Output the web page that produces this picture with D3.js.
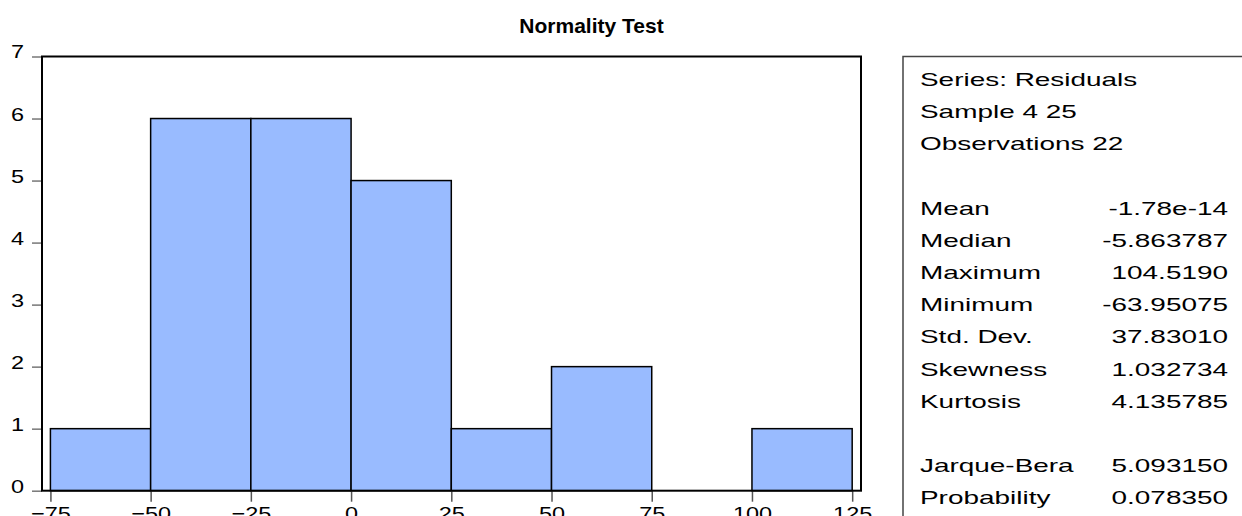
<!DOCTYPE html>
<html>
<head>
<meta charset="utf-8">
<script src="https://cdn.jsdelivr.net/npm/d3@7"></script>
<style>
	body { margin: 0; background: #fff; }
	svg { display: block; font-family: "Liberation Sans", Arial, sans-serif; }
</style>
</head>
<body>
<div id="root"></div>
<script>
// histogram bins (residuals) and counts
const binStarts = [-75, -50, -25, 0, 25, 50, 75, 100];
const binWidth = 25;
const counts = [1, 6, 6, 5, 1, 2, 0, 1];
const xTicks = [-75, -50, -25, 0, 25, 50, 75, 100, 125];
const yTicks = [0, 1, 2, 3, 4, 5, 6, 7];

// summary statistics panel
const statLabels = ["Mean", "Median", "Maximum", "Minimum", "Std. Dev.", "Skewness", "Kurtosis"];
const statValues = ["-1.78e-14", "-5.863787", "104.5190", "-63.95075", "37.83010", "1.032734", "4.135785"];
const testLabels = ["Jarque-Bera", "Probability"];
const testValues = ["5.093150", "0.078350"];
const headerLines = ["Series: Residuals", "Sample 4 25", "Observations 22"];

function draw() {
	const width = 1242;
	const height = 516;
	const plot = {left: 42, right: 861, top: 56.5, bottom: 490.7};
	const axisStretch = 1.27;   // tick labels look horizontally stretched
	const boxStretch = 1.47;    // stats text even more so

	const svg = d3.select("#root")
		.append("svg")
		.attr("width", width)
		.attr("height", height);

	const x = d3.scaleLinear()
		.domain([-77.1, 127.2])
		.range([plot.left, plot.right]);
	const y = d3.scaleLinear()
		.domain([0, 7])
		.range([plot.bottom, plot.top]);

	// title
	svg.append("text")
		.attr("x", 591.5)
		.attr("y", 33)
		.attr("text-anchor", "middle")
		.style("font-weight", "bold")
		.style("font-size", "21px")
		.text("Normality Test");

	// bars
	svg.append("g").selectAll("rect")
		.data(binStarts.map((s, i) => ({s: s, n: counts[i]})).filter(d => d.n > 0))
		.enter()
		.append("rect")
		.attr("x", d => x(d.s))
		.attr("y", d => y(d.n))
		.attr("width", d => x(d.s + binWidth) - x(d.s))
		.attr("height", d => y(0) - y(d.n))
		.attr("fill", "#99bbff")
		.attr("stroke", "#000")
		.attr("stroke-width", 1.5);

	// y axis ticks and labels
	const yAxis = svg.append("g")
		.attr("transform", "translate(" + plot.left + ",0)")
		.call(d3.axisLeft(y).tickValues(yTicks).tickFormat(d3.format("d")).tickSize(10).tickPadding(0).tickSizeOuter(0));
	yAxis.select(".domain").remove();
	yAxis.selectAll(".tick line").attr("stroke", "#777").attr("stroke-width", 1.5);
	yAxis.selectAll(".tick text")
		.attr("x", -18 / axisStretch)
		.attr("dy", "0.08em")
		.attr("transform", "scale(" + axisStretch + ",1)")
		.style("font-size", "18.5px")
		.attr("fill", "#000");

	// x axis ticks and labels
	const xAxis = svg.append("g")
		.attr("transform", "translate(0," + plot.bottom + ")")
		.call(d3.axisBottom(x).tickValues(xTicks).tickSize(11).tickPadding(0).tickSizeOuter(0));
	xAxis.select(".domain").remove();
	xAxis.selectAll(".tick line").attr("stroke", "#555").attr("stroke-width", 1.5);
	xAxis.selectAll(".tick text")
		.attr("y", 29)
		.attr("dy", 0)
		.attr("transform", "scale(" + axisStretch + ",1)")
		.style("font-size", "18.5px")
		.attr("fill", "#000");

	// plot frame
	svg.append("rect")
		.attr("x", plot.left)
		.attr("y", plot.top)
		.attr("width", plot.right - plot.left)
		.attr("height", plot.bottom - plot.top)
		.attr("fill", "none")
		.attr("stroke", "#000")
		.attr("stroke-width", 2);

	// stats box
	const box = svg.append("g");
	box.append("rect")
		.attr("x", 903)
		.attr("y", 56.5)
		.attr("width", 400)
		.attr("height", 500)
		.attr("fill", "#fff")
		.attr("stroke", "#444")
		.attr("stroke-width", 1.5);

	const rowY = k => 85.7 + k * 32.2;
	const textX = 920;
	const valueX = 1228;

	function boxText(str, px, py, anchor) {
		box.append("text")
			.attr("transform", "translate(" + px + "," + py + ") scale(" + boxStretch + ",1)")
			.attr("text-anchor", anchor)
			.style("font-size", "19px")
			.text(str);
	}

	headerLines.forEach((line, i) => boxText(line, textX, rowY(i), "start"));

	statLabels.forEach((lab, i) => {
		boxText(lab, textX, rowY(i + 4), "start");
		boxText(statValues[i], valueX, rowY(i + 4), "end");
	});

	testLabels.forEach((lab, i) => {
		boxText(lab, textX, rowY(i + 12), "start");
		boxText(testValues[i], valueX, rowY(i + 12), "end");
	});
}

draw();
</script>
</body>
</html>
